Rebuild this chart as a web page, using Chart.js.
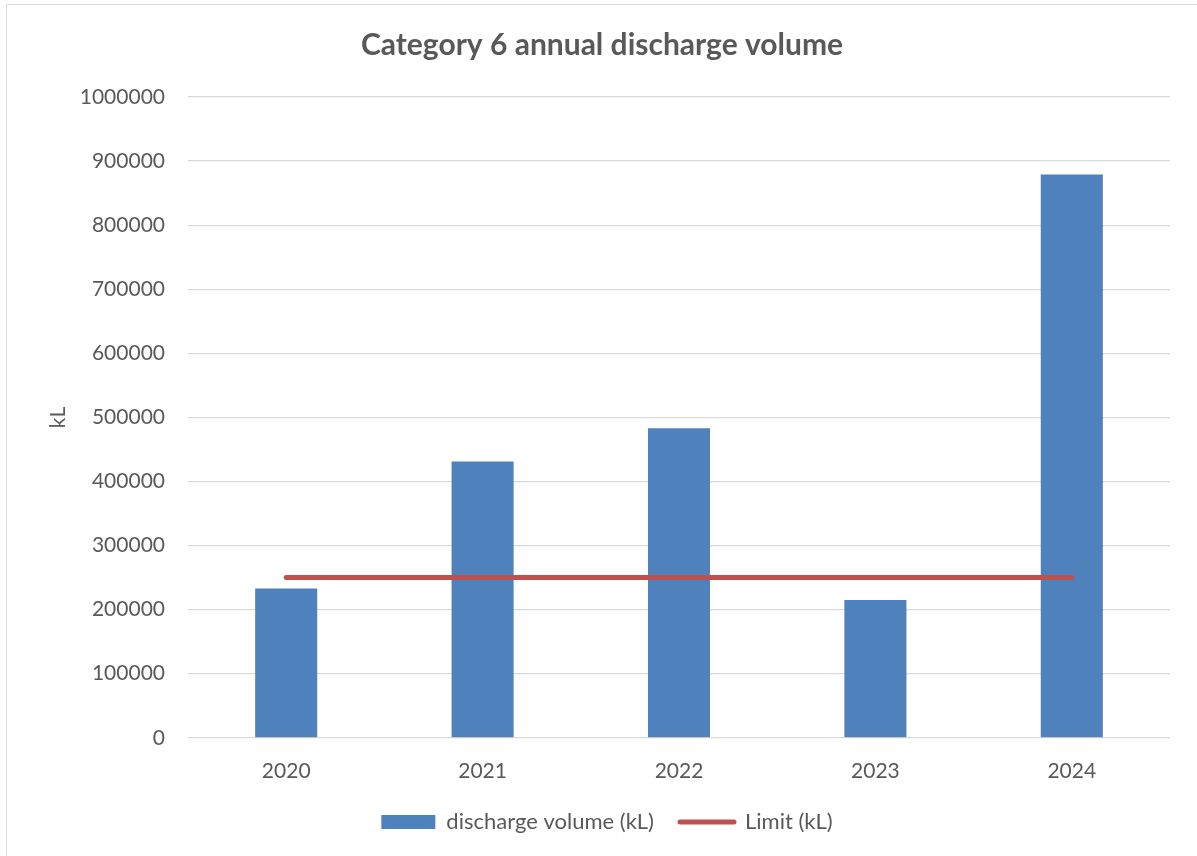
<!DOCTYPE html>
<html>
<head>
<meta charset="utf-8">
<script src="https://cdn.jsdelivr.net/npm/chart.js@4.4.0/dist/chart.umd.min.js"></script>
<style>
  html, body { margin: 0; padding: 0; background: #ffffff; }
  #wrap { position: relative; width: 1197px; height: 856px; }
  canvas { display: block; }
</style>
</head>
<body>
<div id="wrap"><canvas id="c" width="1197" height="856"></canvas></div>
<script>
const categories = ['2020', '2021', '2022', '2023', '2024'];
const dischargeVolume = [233000, 431000, 483000, 215000, 879000];
const limitValues = [250000, 250000, 250000, 250000, 250000];
const yTickValues = [0, 100000, 200000, 300000, 400000, 500000, 600000, 700000, 800000, 900000, 1000000];

const TEXT = '#595959';
const FONT = 'Lato, "Open Sans", sans-serif';

const borderPlugin = {
  id: 'outerBorder',
  beforeDraw(chart) {
    const ctx = chart.ctx;
    ctx.save();
    ctx.fillStyle = '#ffffff';
    ctx.fillRect(0, 0, chart.width, chart.height);
    ctx.strokeStyle = '#D9D9D9';
    ctx.lineWidth = 1;
    ctx.beginPath();
    ctx.moveTo(6.5, chart.height);
    ctx.lineTo(6.5, 4.5);
    ctx.lineTo(chart.width, 4.5);
    ctx.stroke();
    ctx.restore();
  }
};

const layoutPatch = {
  id: 'layoutPatch',
  beforeUpdate(chart) {
    const lg = chart.legend;
    if (lg && !lg._patched) {
      const f = lg.fit.bind(lg);
      lg.fit = function () { f(); this.height = 51; };
      lg._patched = true;
    }
  },
  afterLayout(chart) {
    const lg = chart.legend;
    if (lg) {
      lg.left += 22; lg.right += 22;
      lg.top -= 20; lg.bottom -= 20;
    }
    const tb = chart.titleBlock;
    if (tb) { tb.left += 17; tb.right += 17; }
  }
};

new Chart(document.getElementById('c'), {
  type: 'bar',
  data: {
    labels: categories,
    datasets: [
      {
        type: 'bar',
        label: 'discharge volume (kL)',
        data: dischargeVolume,
        backgroundColor: '#4F81BD',
        borderWidth: 0,
        categoryPercentage: 1.0,
        barPercentage: 0.316,
        order: 2
      },
      {
        type: 'line',
        label: 'Limit (kL)',
        data: limitValues,
        borderColor: '#C0504D',
        backgroundColor: '#C0504D',
        borderWidth: 5,
        borderCapStyle: 'round',
        pointRadius: 0,
        pointHoverRadius: 0,
        fill: false,
        tension: 0,
        order: 1
      }
    ]
  },
  options: {
    responsive: false,
    animation: false,
    devicePixelRatio: 1,
    layout: { padding: { left: 0, right: 27, top: 0, bottom: 0 } },
    plugins: {
      title: {
        display: true,
        text: 'Category 6 annual discharge volume',
        color: TEXT,
        font: { family: FONT, size: 30, weight: 'bold' },
        padding: { top: 27, bottom: 34 }
      },
      legend: {
        position: 'bottom',
        labels: {
          color: TEXT,
          font: { family: FONT, size: 22 },
          padding: 26,
          usePointStyle: true,
          boxHeight: 14,
          pointStyleWidth: 54,
          generateLabels() {
            return [
              { text: 'discharge volume (kL)', fillStyle: '#4F81BD', strokeStyle: '#4F81BD', lineWidth: 0, pointStyle: 'rect', datasetIndex: 0, fontColor: TEXT },
              { text: 'Limit (kL)', fillStyle: '#C0504D', strokeStyle: '#C0504D', lineWidth: 5, lineCap: 'round', pointStyle: 'line', datasetIndex: 1, fontColor: TEXT }
            ];
          }
        }
      },
      tooltip: { enabled: false }
    },
    scales: {
      x: {
        grid: { display: false, drawTicks: false },
        border: { display: false },
        ticks: { color: TEXT, font: { family: FONT, size: 21 }, padding: 21 }
      },
      y: {
        min: 0,
        max: 1000000,
        afterBuildTicks(scale) { scale.ticks = yTickValues.map(v => ({ value: v })); },
        afterFit(scale) { scale.width = 188; },
        grid: { color: '#D9D9D9', lineWidth: 1.3, drawTicks: false },
        border: { display: false },
        ticks: { color: TEXT, font: { family: FONT, size: 21 }, padding: 23, callback: v => String(v) },
        title: { display: true, text: 'kL', color: TEXT, font: { family: FONT, size: 21 }, padding: { top: 46, bottom: 0 } }
      }
    }
  },
  plugins: [borderPlugin, layoutPatch]
});
</script>
</body>
</html>
